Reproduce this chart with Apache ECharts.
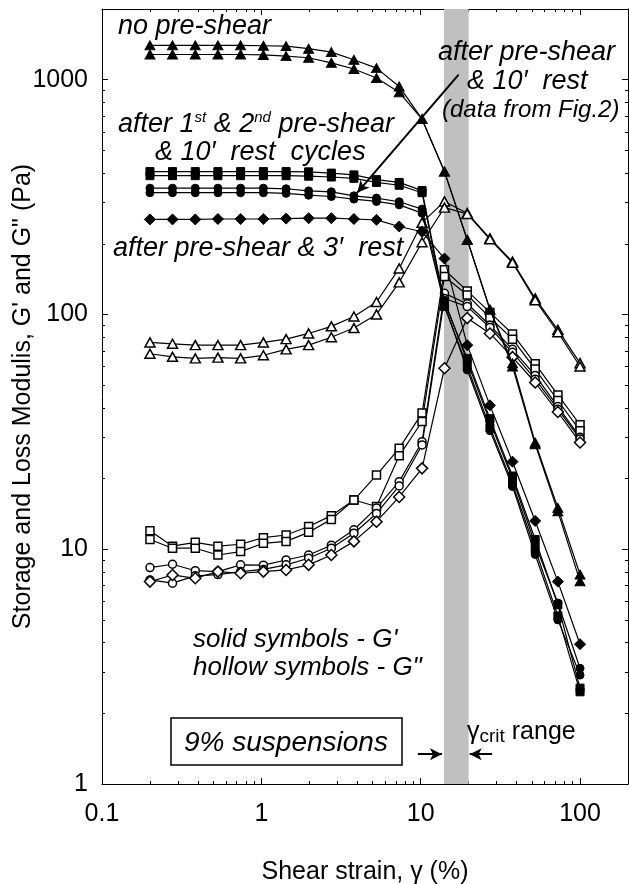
<!DOCTYPE html>
<html>
<head>
<meta charset="utf-8">
<script src="https://cdn.jsdelivr.net/npm/echarts@6/dist/echarts.min.js"></script>
<style>
html, body { margin: 0; padding: 0; background: #fff; }
#main { width: 629px; height: 884px; }
</style>
</head>
<body>
<div id="main"></div>
<script>
// shear strain of each measured point (%)
var strain = [0.2, 0.277, 0.385, 0.534, 0.741, 1.03, 1.43, 1.98, 2.75, 3.81, 5.28, 7.33, 10.2, 14.1, 19.6, 27.2, 37.7, 52.3, 72.6, 100];

// G' (solid symbols)
var gpTriA = [1400, 1400, 1400, 1400, 1400, 1395, 1390, 1355, 1310, 1216, 1120, 936, 679, 406, 208, 105, 62, 28.5, 15, 7.8];
var gpTriB = [1280, 1280, 1280, 1280, 1280, 1275, 1260, 1240, 1180, 1110, 1016, 883, 679, 406, 208, 105, 60, 28, 14.5, 7.3];
var gpSqA = [406, 406, 406, 406, 406, 406, 406, 405, 400, 393, 375, 365, 337, 112, 65, 36, 20.5, 11, 5.8, 2.56];
var gpSqB = [390, 390, 390, 390, 390, 390, 390, 388, 385, 380, 365, 355, 330, 108, 60, 33, 19, 10, 5.2, 2.47];
var gpCirA = [345, 345, 345, 345, 345, 345, 343, 336, 333, 320, 313, 302, 281, 115, 63, 35, 20, 10.5, 5.9, 3.11];
var gpCirB = [330, 330, 330, 330, 330, 330, 328, 322, 318, 310, 303, 293, 270, 110, 58, 32, 18.5, 9.5, 5.0, 2.91];
var gpDia = [254, 254, 254, 255, 255, 255, 256, 257, 257, 255, 253, 237, 225, 173, 74, 41, 23.6, 13.2, 7.28, 3.94];

// G'' (hollow symbols)
var gppTriA = [76, 75, 74, 74, 74, 76, 78.5, 83, 89, 98, 113, 157, 246, 303, 270, 211, 168, 117, 86, 62];
var gppTriB = [68, 66, 65, 65.5, 65, 67, 71, 74, 80, 87.5, 100, 137, 203, 285, 268, 209, 166, 115, 84, 60];
var gppSqA = [12.0, 10.3, 10.7, 10.3, 10.5, 11.2, 11.5, 12.5, 13.9, 16.2, 20.7, 26.9, 38, 155, 126, 102, 82.6, 61.6, 45.4, 33.9];
var gppSqB = [11.0, 10.1, 10.1, 9.45, 9.77, 10.6, 10.8, 11.8, 13.4, 16.2, 15.2, 25.0, 35, 145, 121, 97, 78.5, 58.5, 43, 32];
var gppCirA = [8.35, 8.63, 8.1, 8.03, 8.58, 8.55, 9.0, 9.45, 10.4, 12.1, 15.0, 19.4, 28.7, 123, 111, 90, 71, 55, 40.5, 30];
var gppCirB = [7.4, 7.17, 7.7, 7.8, 8.03, 8.2, 8.58, 9.15, 10.1, 11.7, 14.2, 18.6, 27.8, 117, 108, 88, 69, 53, 39.5, 29.5];
var gppDia = [7.28, 7.77, 7.52, 8.03, 7.9, 8.03, 8.16, 8.58, 9.45, 10.8, 13.1, 16.7, 22.1, 59, 96.5, 83, 65.8, 51.3, 38.4, 28.5];

// axis ticks
var xMajor = [0.1, 1, 10, 100];
var xMinor = [0.2, 0.3, 0.4, 0.5, 0.6, 0.7, 0.8, 0.9, 2, 3, 4, 5, 6, 7, 8, 9, 20, 30, 40, 50, 60, 70, 80, 90];
var yMajor = [1, 10, 100, 1000];
var yMinor = [2, 3, 4, 5, 6, 7, 8, 9, 20, 30, 40, 50, 60, 70, 80, 90, 200, 300, 400, 500, 600, 700, 800, 900];

// gamma_crit band and arrows (data coords)
var critRange = [14, 20];
var arrowFig2 = [[17.3, 1050], [4.0, 330]];
var arrowLeft = [[9.6, 1.34], [13.6, 1.34]];
var arrowRight = [[28, 1.34], [20.3, 1.34]];

var FONT = '"Liberation Sans", Arial, sans-serif';

function xAx(pos, ticks, len, main) {
  return {
    type: 'log', logBase: 10, min: 0.1, max: 200, position: pos, gridIndex: 0,
    axisLine: { show: main, lineStyle: { color: '#000', width: 1 } },
    axisTick: { show: true, inside: true, length: len, customValues: ticks, lineStyle: { color: '#000', width: 1 } },
    axisLabel: { show: main && pos === 'bottom', customValues: ticks, color: '#000', fontSize: 25, fontFamily: FONT, margin: 18,
      formatter: function (v) { return String(Number(v.toPrecision(6))); } },
    splitLine: { show: false }
  };
}
function yAx(pos, ticks, len, main) {
  return {
    type: 'log', logBase: 10, min: 1, max: 2000, position: pos, gridIndex: 0,
    axisLine: { show: main, lineStyle: { color: '#000', width: 1 } },
    axisTick: { show: true, inside: true, length: len, customValues: ticks, lineStyle: { color: '#000', width: 1 } },
    axisLabel: { show: main && pos === 'left', customValues: ticks, color: '#000', fontSize: 25, fontFamily: FONT, margin: 14,
      formatter: function (v) { return String(Number(v.toPrecision(6))); } },
    splitLine: { show: false }
  };
}

function mk(name, vals, symbol, size, hollow) {
  return {
    name: name, type: 'line', xAxisIndex: 0, yAxisIndex: 0,
    data: strain.map(function (x, i) { return [x, vals[i]]; }),
    symbol: symbol, symbolSize: size, showAllSymbol: true,
    lineStyle: { color: '#000', width: 1.2 },
    itemStyle: { color: hollow ? '#fff' : '#000', borderColor: '#000', borderWidth: hollow ? 1.5 : 1 },
    emphasis: { disabled: true },
    z: hollow ? 3 : 4
  };
}

function txt(x, y, s, size, italic, rich) {
  return {
    type: 'text', x: x, y: y, z: 20,
    style: { text: s, fill: '#000', fontSize: size, fontFamily: FONT, fontStyle: italic ? 'italic' : 'normal',
      align: 'left', verticalAlign: 'middle', rich: rich }
  };
}

var supRich = {
  n: { fontSize: 27, fontStyle: 'italic', fontFamily: FONT, fill: '#000' },
  sup: { fontSize: 15, fontStyle: 'italic', fontFamily: FONT, fill: '#000', padding: [0, 0, 12, 0] }
};
var subRich = {
  g: { fontSize: 25, fontFamily: FONT, fill: '#000' },
  sub: { fontSize: 19, fontFamily: FONT, fill: '#000', padding: [10, 0, 0, 0] },
  n: { fontSize: 25, fontFamily: FONT, fill: '#000' }
};

var myChart = echarts.init(document.getElementById('main'), null, { renderer: 'canvas' });

myChart.setOption({
  animation: false,
  backgroundColor: '#fff',
  grid: { left: 102, right: 1, top: 9, bottom: 100, outerBoundsMode: 'none', containLabel: false },
  xAxis: [
    Object.assign(xAx('bottom', xMajor, 6, true), {
      name: 'Shear strain, \u03b3 (%)', nameLocation: 'middle', nameGap: 76, nameMoveOverlap: false,
      nameTextStyle: { color: '#000', fontSize: 25, fontFamily: FONT }
    }),
    xAx('bottom', xMinor, 3, false),
    xAx('top', xMajor, 6, true),
    xAx('top', xMinor, 3, false)
  ],
  yAxis: [
    Object.assign(yAx('left', yMajor, 6, true), {
      name: 'Storage and Loss Modulis, G\' and G" (Pa)', nameLocation: 'middle', nameGap: 66, nameMoveOverlap: false,
      nameTextStyle: { color: '#000', fontSize: 25, fontFamily: FONT }
    }),
    yAx('left', yMinor, 3, false),
    yAx('right', yMajor, 6, true),
    yAx('right', yMinor, 3, false)
  ],
  series: [
    {
      type: 'line', data: [], z: 1,
      markArea: { silent: true, itemStyle: { color: '#c0c0c0' },
        data: [[{ xAxis: critRange[0] }, { xAxis: critRange[1] }]] }
    },
    {
      type: 'line', data: [], z: 10,
      markLine: {
        silent: true, symbol: ['none', 'arrow'], symbolSize: [9, 12],
        lineStyle: { color: '#000', width: 2, type: 'solid' }, label: { show: false },
        data: [
          [{ coord: arrowFig2[0] }, { coord: arrowFig2[1] }],
          [{ coord: arrowLeft[0] }, { coord: arrowLeft[1] }],
          [{ coord: arrowRight[0] }, { coord: arrowRight[1] }]
        ]
      }
    },
    mk("G'' no pre-shear 1", gppTriA, 'triangle', [10, 9], true),
    mk("G'' no pre-shear 2", gppTriB, 'triangle', [10, 9], true),
    mk("G'' cycles sq 1", gppSqA, 'rect', 8, true),
    mk("G'' cycles sq 2", gppSqB, 'rect', 8, true),
    mk("G'' 10' rest 1", gppCirA, 'circle', 8, true),
    mk("G'' 10' rest 2", gppCirB, 'circle', 8, true),
    mk("G'' 3' rest", gppDia, 'diamond', [11, 11], true),
    mk("G' no pre-shear 1", gpTriA, 'triangle', [10, 9], false),
    mk("G' no pre-shear 2", gpTriB, 'triangle', [10, 9], false),
    mk("G' cycles sq 1", gpSqA, 'rect', 8, false),
    mk("G' cycles sq 2", gpSqB, 'rect', 8, false),
    mk("G' 10' rest 1", gpCirA, 'circle', 8, false),
    mk("G' 10' rest 2", gpCirB, 'circle', 8, false),
    mk("G' 3' rest", gpDia, 'diamond', [11, 11], false)
  ],
  graphic: [
    txt(118, 26, 'no pre-shear', 27, true),
    txt(118, 124, '{n|after 1}{sup|st}{n| & 2}{sup|nd}{n| pre-shear}', 27, true, supRich),
    txt(155, 152, '& 10\u2032  rest  cycles', 27, true),
    txt(113, 248, 'after pre-shear & 3\u2032  rest', 27, true),
    txt(438, 52, 'after pre-shear', 27, true),
    txt(467, 81, '& 10\u2032  rest', 27, true),
    txt(442, 110, '(data from Fig.2)', 24, true),
    txt(193, 640, 'solid symbols - G\'', 26, true),
    txt(193, 668, 'hollow symbols - G"', 26, true),
    {
      type: 'rect', z: 20,
      shape: { x: 171, y: 718, width: 231, height: 47 },
      style: { fill: '#fff', stroke: '#000', lineWidth: 1.5 }
    },
    txt(184, 743, '9% suspensions', 28, true),
    txt(467, 732, '{g|\u03b3}{sub|crit}{n| range}', 25, false, subRich)
  ]
});
</script>
</body>
</html>
